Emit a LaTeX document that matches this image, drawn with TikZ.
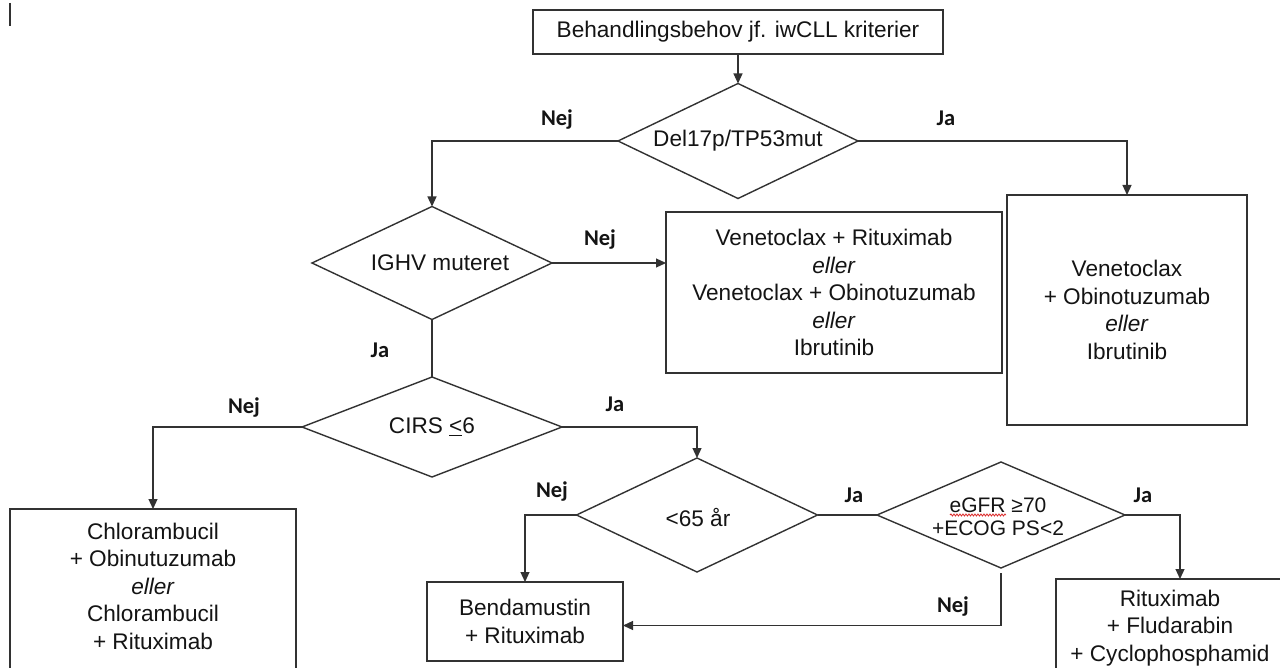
\documentclass[tikz,border=0pt]{standalone}
\usepackage{fontspec}
\setmainfont{Liberation Sans}
\newfontfamily\lblfont{Carlito}
\usetikzlibrary{shapes.geometric, arrows.meta, decorations.pathmorphing}
\definecolor{linec}{RGB}{50,50,50}
\definecolor{txtc}{RGB}{20,20,20}
\definecolor{wavec}{RGB}{220,40,40}
\newcommand\mainsz{\fontsize{22.6}{27.5}\selectfont}
\newcommand\smallsz{\fontsize{21}{23.5}\selectfont}
\begin{document}
\begin{tikzpicture}[x=1pt, y=-1pt,
  every node/.style={inner sep=0pt, outer sep=0pt, text=txtc},
  box/.style={draw=linec, line width=1.4pt, rectangle, align=center, font=\mainsz},
  dia/.style={draw=linec, line width=1.4pt, diamond, inner sep=0pt},
  txt/.style={align=center, font=\mainsz},
  lbl/.style={font=\lblfont\bfseries\fontsize{22.5}{26}\selectfont},
  conn/.style={draw=linec, line width=1.2pt},
  arr/.style={conn, -{Triangle[length=10pt,width=9pt]}}
]
\useasboundingbox (0,0) rectangle (1280,668);
\fill[white] (0,0) rectangle (1280,668);
\clip (0,0) rectangle (1280,668);

% cursor mark
\draw[linec, line width=1.5pt] (10,3) -- (10,26);

% boxes
\node[box, minimum width=410pt, minimum height=44pt] (top) at (738,32) {Behandlingsbehov jf. iwCLL kriterier};
\node[box, minimum width=336pt, minimum height=161pt] (mb) at (834,292.5)
  {Venetoclax + Rituximab\\\textit{eller}\\Venetoclax + Obinotuzumab\\\textit{eller}\\Ibrutinib};
\node[box, minimum width=240pt, minimum height=230pt] (rb) at (1127,310)
  {Venetoclax\\+ Obinotuzumab\\\textit{eller}\\Ibrutinib};
\node[box, minimum width=196pt, minimum height=79pt] (bb) at (525,621.5)
  {Bendamustin\\+ Rituximab};
\node[box, minimum width=286pt, minimum height=181pt] (lb) at (153,599.5) {};
\node[txt] (lbt) at (153,586)
  {Chlorambucil\\+ Obinutuzumab\\\textit{eller}\\Chlorambucil\\+ Rituximab};
\node[box, minimum width=228pt, minimum height=111pt] (br) at (1170,634.5) {};
\node[txt] (brt) at (1170,628)
  {Rituximab\\+ Fludarabin\\+ Cyclophosphamid};

% diamonds
\node[dia, minimum width=240pt, minimum height=115pt] (d1) at (738,141) {};
\node[txt] (d1t) at (d1) {Del17p/TP53mut};
\node[dia, minimum width=240pt, minimum height=113pt] (d2) at (432,263) {};
\node[txt] (d2t) at (440,263) {IGHV muteret};
\node[dia, minimum width=260pt, minimum height=100pt] (d3) at (432,427) {};
\node[txt] (d3t) at (d3) {CIRS \underline{<}6};
\node[dia, minimum width=241pt, minimum height=114pt] (d4) at (697,515) {};
\node[txt] (d4t) at (698,517) {<65 år};
\node[dia, minimum width=248pt, minimum height=106pt] (d5) at (1001,515) {};
\node[txt, font=\smallsz] (d5t) at (998,517) {eGFR ≥70\\+ECOG PS<2};
\draw[wavec, line width=0.8pt, decorate, decoration={snake, amplitude=1pt, segment length=3pt}] (950,515) -- (1006,515);

% connectors
\draw[arr] (top.south) -- (d1.north);
\draw[arr] (d1.west) -| (d2.north);
\draw[arr] (d1.east) -| (rb.north);
\draw[arr] (d2.east) -- (d2.east -| mb.west);
\draw[conn] (d2.south) -- (d3.north);
\draw[arr] (d3.west) -| (lb.north);
\draw[arr] (d3.east) -| (d4.north);
\draw[arr] (d4.west) -| (bb.north);
\draw[conn] (d4.east) -- (d5.west);
\draw[arr] (d5.east) -| ([xshift=10pt]br.north);
\draw[arr] ([yshift=-5pt]d5.south) |- ([yshift=-4pt]bb.east);

% labels
\node[lbl] (l1) at (557,120) {Nej};
\node[lbl] (l2) at (946,118) {Ja};
\node[lbl] (l3) at (600,240) {Nej};
\node[lbl] (l4) at (380,350) {Ja};
\node[lbl] (l5) at (244,408) {Nej};
\node[lbl] (l6) at (615,404) {Ja};
\node[lbl] (l7) at (552,492) {Nej};
\node[lbl] (l8) at (854,495) {Ja};
\node[lbl] (l9) at (1143,495) {Ja};
\node[lbl] (l10) at (953,607) {Nej};
\end{tikzpicture}
\end{document}
